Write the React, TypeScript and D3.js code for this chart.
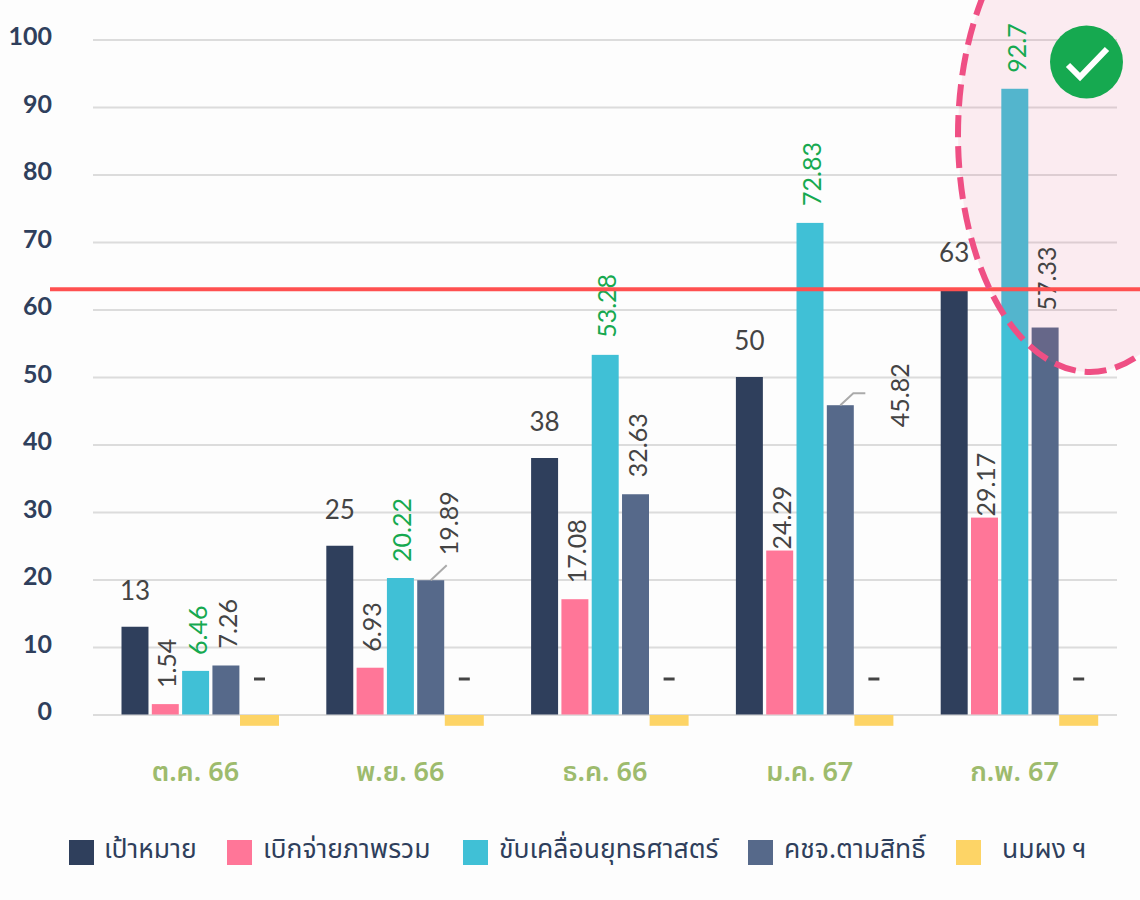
import React, { useRef, useEffect } from "react";
import * as d3 from "d3";

const months = ["ต.ค. 66", "พ.ย. 66", "ธ.ค. 66", "ม.ค. 67", "ก.พ. 67"];
const seriesNames = ["เป้าหมาย", "เบิกจ่ายภาพรวม", "ขับเคลื่อนยุทธศาสตร์", "คชจ.ตามสิทธิ์", "นมผง ฯ"];
const seriesColors = ["#2f3f5c", "#ff7698", "#40c0d6", "#56698a", "#fdd466"];

const target = [13, 25, 38, 50, 63];
const overall = [1.54, 6.93, 17.08, 24.29, 29.17];
const strategy = [6.46, 20.22, 53.28, 72.83, 92.7];
const entitled = [7.26, 19.89, 32.63, 45.82, 57.33];
const milk = [-1.6, -1.6, -1.6, -1.6, -1.6];
const targetLine = 63;

const legendX = [69, 227, 463, 748, 956];
const legendTextX = [104, 263, 499, 784, 1002];

const NUM_FONT = "Lato, 'Noto Sans', sans-serif";
const THAI_FONT = "'Noto Sans', 'Noto Sans Thai', sans-serif";

export default function App() {
  const svgRef = useRef<SVGSVGElement>(null);

  useEffect(() => {
    const svg = d3.select(svgRef.current);
    svg.selectAll("*").remove();

    const y = d3.scaleLinear().domain([0, 100]).range([714.5, 39.5]);
    const x = d3.scaleBand<string>().domain(months).range([93, 1117]);
    const inner = d3
      .scaleBand<number>()
      .domain([0, 1, 2, 3])
      .range([28.5, 146.4])
      .paddingInner(0.11);

    // grid + y labels
    const yAxis = d3.axisLeft(y).tickValues(d3.range(0, 101, 10)).tickSize(-1024).tickPadding(41);
    const gy = svg.append("g").attr("transform", "translate(93,0)").call(yAxis);
    gy.select(".domain").remove();
    gy.selectAll(".tick line").attr("stroke", "#dcdcdc").attr("stroke-width", 2);
    gy.selectAll(".tick text")
      .attr("fill", "#2f3f5c")
      .attr("font-size", 25)
      .attr("font-weight", 700)
      .attr("font-family", NUM_FONT)
      .attr("dy", "0.2em");

    // month labels
    svg
      .append("g")
      .selectAll("text")
      .data(months)
      .join("text")
      .attr("x", (d) => x(d)! + x.bandwidth() / 2)
      .attr("y", 781)
      .attr("text-anchor", "middle")
      .attr("fill", "#9dbb6d")
      .attr("font-size", 27)
      .attr("font-weight", 600)
      .attr("font-family", THAI_FONT)
      .text((d) => d);

    // bars
    const series = [target, overall, strategy, entitled];
    series.forEach((vals, s) => {
      svg
        .append("g")
        .selectAll("rect")
        .data(vals)
        .join("rect")
        .attr("x", (_, i) => x(months[i])! + inner(s)!)
        .attr("y", (d) => y(d))
        .attr("width", inner.bandwidth())
        .attr("height", (d) => y(0) - y(d))
        .attr("fill", seriesColors[s]);
    });

    svg
      .append("g")
      .selectAll("rect")
      .data(milk)
      .join("rect")
      .attr("x", (_, i) => x(months[i])! + 147)
      .attr("y", y(0) + 0.5)
      .attr("width", 39)
      .attr("height", (d) => y(d) - y(0))
      .attr("fill", seriesColors[4]);

    // pink highlight sits over the last group
    svg
      .append("ellipse")
      .attr("cx", 1090)
      .attr("cy", 135)
      .attr("rx", 132)
      .attr("ry", 237)
      .attr("fill", "#ee5a8a")
      .attr("fill-opacity", 0.11);

    // target labels are horizontal
    svg
      .append("g")
      .selectAll("text")
      .data(target)
      .join("text")
      .attr("x", (_, i) => x(months[i])! + inner(0)! + inner.bandwidth() / 2)
      .attr("y", (d) => y(d) - 27)
      .attr("text-anchor", "middle")
      .attr("fill", "#444")
      .attr("font-size", 26)
      .attr("font-family", NUM_FONT)
      .text((d) => d);

    const rotated = (vals: number[], s: number, color: string, dx: number[], gap: number[]) => {
      svg
        .append("g")
        .selectAll("text")
        .data(vals)
        .join("text")
        .attr("transform", (d, i) => {
          const px = x(months[i])! + inner(s)! + inner.bandwidth() / 2 + dx[i];
          return `translate(${px + 9},${y(d) - gap[i]}) rotate(-90)`;
        })
        .attr("fill", color)
        .attr("font-size", 25)
        .attr("font-family", NUM_FONT)
        .text((d) => d);
    };
    rotated(overall, 1, "#444", [2, 2, 2, 2, 2], [16, 16, 16, 1, 1]);
    rotated(strategy, 2, "#16a950", [2, 2, 2, 2, 2], [16, 16, 17, 17, 16]);
    rotated(entitled, 3, "#444", [2, 18, 2, 60, 2], [17, 25, 17, -22, 17]);

    // dash labels for the milk series
    svg
      .append("g")
      .selectAll("rect")
      .data(milk)
      .join("rect")
      .attr("x", (_, i) => x(months[i])! + 161)
      .attr("y", 677.5)
      .attr("width", 11)
      .attr("height", 3)
      .attr("fill", "#444");

    // leader lines
    const leader = (i: number, pts: [number, number][]) => {
      const x0 = x(months[i])! + inner(3)! + inner.bandwidth() / 2;
      const y0 = y(entitled[i]);
      svg
        .append("path")
        .attr("d", d3.line()(pts.map(([a, b]) => [x0 + a, y0 + b])))
        .attr("fill", "none")
        .attr("stroke", "#aaa")
        .attr("stroke-width", 2);
    };
    leader(1, [[0, 0], [16, -15]]);
    leader(3, [[0, 0], [13, -12], [25, -12]]);

    // target line
    svg
      .append("line")
      .attr("x1", 50)
      .attr("x2", 1140)
      .attr("y1", y(targetLine))
      .attr("y2", y(targetLine))
      .attr("stroke", "#ff5050")
      .attr("stroke-width", 4);

    svg
      .append("ellipse")
      .attr("cx", 1090)
      .attr("cy", 135)
      .attr("rx", 132)
      .attr("ry", 237)
      .attr("fill", "none")
      .attr("stroke", "#ef4f84")
      .attr("stroke-width", 6)
      .attr("stroke-dasharray", "22 9");

    // check badge
    svg.append("circle").attr("cx", 1086.5).attr("cy", 62).attr("r", 36.5).attr("fill", "#16a950");
    svg
      .append("path")
      .attr("d", "M1068,65 L1080,77 L1107,49")
      .attr("fill", "none")
      .attr("stroke", "#fff")
      .attr("stroke-width", 6);

    // legend
    const lg = svg.append("g");
    lg.selectAll("rect")
      .data(seriesNames)
      .join("rect")
      .attr("x", (_, i) => legendX[i])
      .attr("y", 840)
      .attr("width", 25)
      .attr("height", 25)
      .attr("fill", (_, i) => seriesColors[i]);
    lg.selectAll("text")
      .data(seriesNames)
      .join("text")
      .attr("x", (_, i) => legendTextX[i])
      .attr("y", 858)
      .attr("fill", "#2f3f5c")
      .attr("font-size", 26.5)
      .attr("font-family", THAI_FONT)
      .text((d) => d);
  }, []);

  return (
    <svg
      ref={svgRef}
      width={1140}
      height={900}
      style={{ position: "absolute", left: 0, top: 0, background: "#fdfdfd" }}
    />
  );
}
